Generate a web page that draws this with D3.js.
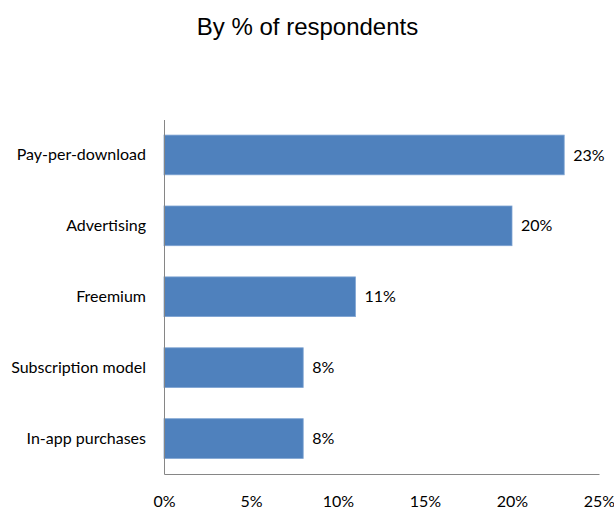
<!DOCTYPE html>
<html><head><meta charset="utf-8">
<script src="https://cdn.jsdelivr.net/npm/d3@7"></script>
<style>body{margin:0;background:#fff}</style>
</head><body>
<svg id="c" width="614" height="508"></svg>
<script>
const categories = ["Pay-per-download","Advertising","Freemium","Subscription model","In-app purchases"];
const values = [23,20,11,8,8];
const xTicks = [0,5,10,15,20,25];
const title = "By % of respondents";

const svg = d3.select("#c");
const x = d3.scaleLinear().domain([0,25]).range([164,599]);
const y = d3.scaleBand().domain(categories).range([119.5,474]).paddingInner(0.44).paddingOuter(0.22);
const labelFont = "Lato, 'Open Sans', sans-serif";

svg.append("text").attr("x",307.5).attr("y",35).attr("text-anchor","middle")
  .attr("font-family","'Liberation Sans', Arial, sans-serif").attr("font-size",24).attr("fill","#000").text(title);

svg.selectAll("rect.bar").data(values).join("rect").attr("class","bar")
  .attr("x",x(0)).attr("y",(d,i)=>y(categories[i]))
  .attr("width",d=>x(d)-x(0)).attr("height",y.bandwidth())
  .attr("fill","#4F81BD").attr("stroke","#7ea3d2").attr("stroke-width",0.8);

// axes
const xAxis = d3.axisBottom(x).tickValues(xTicks).tickSize(0).tickPadding(0).tickFormat(d=>d+"%");
const gx = svg.append("g").attr("transform","translate(0,474)").call(xAxis);
gx.select(".domain").attr("stroke","#868686");
gx.selectAll("text").attr("font-family",labelFont).attr("font-size",16).attr("fill","#000").attr("dy",null).attr("y",32.5);

const yAxis = d3.axisLeft(y).tickSize(0).tickPadding(18);
const gy = svg.append("g").attr("transform","translate(164,0)").call(yAxis);
gy.select(".domain").attr("stroke","#868686");
gy.selectAll("text").attr("font-family",labelFont).attr("font-size",16).attr("fill","#000");

svg.selectAll("text.val").data(values).join("text").attr("class","val")
  .attr("x",d=>x(d)+9).attr("y",(d,i)=>y(categories[i])+y.bandwidth()/2).attr("dy","0.35em")
  .attr("font-family",labelFont).attr("font-size",16).attr("fill","#000").text(d=>d+"%");
</script>
</body></html>
